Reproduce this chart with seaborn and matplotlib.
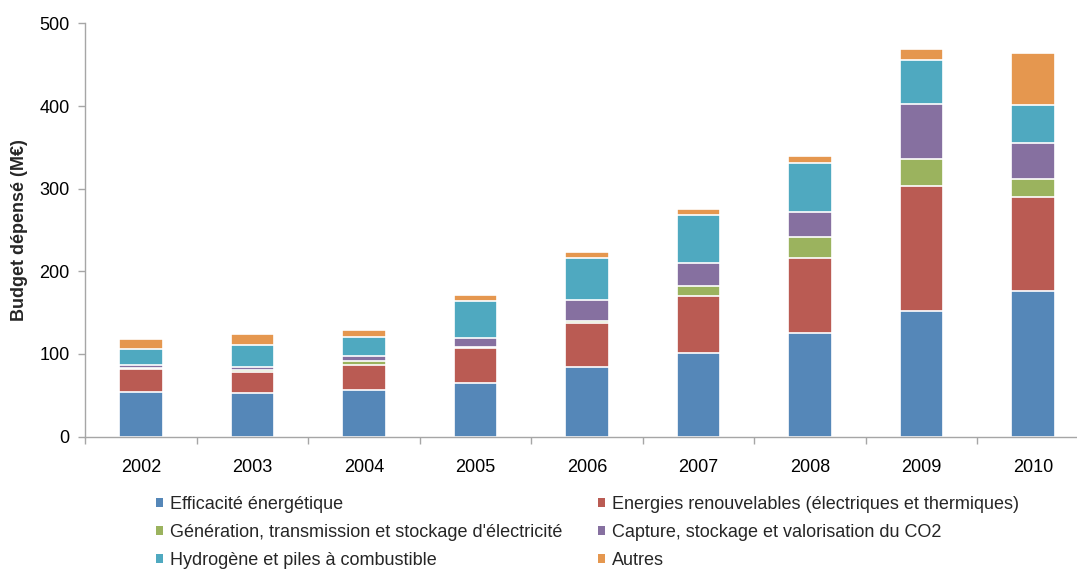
import numpy as np
import pandas as pd
import matplotlib
matplotlib.use("Agg")
import matplotlib.pyplot as plt
from matplotlib.patches import Patch
from matplotlib.ticker import FixedLocator
import seaborn as sns

# Budget dépensé par thématique (M€)
years = ["2002", "2003", "2004", "2005", "2006", "2007", "2008", "2009", "2010"]
efficacite = [53.5, 52.3, 56.3, 64.4, 83.8, 100.7, 125.7, 151.9, 176.1]
renouvelables = [28.0, 25.7, 30.7, 42.4, 53.2, 69.8, 90.8, 151.4, 114.2]
generation = [1.0, 2.0, 4.8, 1.2, 3.2, 11.7, 25.4, 32.3, 21.8]
capture = [3.5, 4.5, 5.7, 11.1, 25.1, 28.2, 30.3, 67.3, 42.9]
hydrogene = [20.5, 25.9, 22.5, 45.1, 51.2, 57.8, 58.5, 53.3, 46.3]
autres = [12.0, 13.3, 9.0, 7.3, 6.5, 6.8, 8.9, 12.9, 63.3]

series_names = [
    "Efficacité énergétique",
    "Energies renouvelables (électriques et thermiques)",
    "Génération, transmission et stockage d'électricité",
    "Capture, stockage et valorisation du CO2",
    "Hydrogène et piles à combustible",
    "Autres",
]
series_values = [efficacite, renouvelables, generation, capture, hydrogene, autres]
colors = ["#5587B8", "#BA5B53", "#9BB35E", "#8670A0", "#4FA9C0", "#E5974F"]

sns.set_theme(style="white")
plt.rcParams["font.family"] = ["Liberation Sans", "DejaVu Sans"]

FS = 13

fig = plt.figure(figsize=(10.77, 5.71), dpi=100)
ax = fig.add_axes([85 / 1077, 134.5 / 571, 1004 / 1077, 413 / 571])

# Stacked bars: draw cumulative totals from the top segment down
cum = np.cumsum(np.array(series_values), axis=0)
for i in range(len(series_names) - 1, -1, -1):
    df = pd.DataFrame({"year": years, "value": cum[i]})
    sns.barplot(data=df, x="year", y="value", color=colors[i], saturation=1,
                width=0.39, edgecolor="white", linewidth=1.2, ax=ax, zorder=2)

ax.set_ylim(0, 500)
ax.set_xlim(-0.5, 8.5)
ax.set_yticks(range(0, 501, 100))
ax.set_xlabel("")
ax.set_ylabel("Budget dépensé (M€)", fontsize=FS, fontweight="bold", labelpad=8)

grey = "#A6A6A6"
for side in ["top", "right"]:
    ax.spines[side].set_visible(False)
for side in ["left", "bottom"]:
    ax.spines[side].set_color(grey)
    ax.spines[side].set_linewidth(1.0)

ax.tick_params(axis="y", which="major", left=True, length=5, width=1, color=grey,
               labelsize=FS, pad=6, labelcolor="black")
ax.tick_params(axis="x", which="major", bottom=False, labelsize=FS, pad=10,
               labelcolor="black")
ax.xaxis.set_minor_locator(FixedLocator(np.arange(-0.5, 9.0, 1.0)))
ax.tick_params(axis="x", which="minor", bottom=True, length=5, width=1, color=grey)

handles = [Patch(facecolor=c, edgecolor="none") for c in colors]
order = [0, 2, 4, 1, 3, 5]
fig.legend([handles[k] for k in order], [series_names[k] for k in order],
           ncol=2, loc="upper left", bbox_to_anchor=(156 / 1077, 1 - 496 / 571),
           frameon=False, fontsize=FS, handlelength=0.4, handleheight=0.4,
           handletextpad=0.35, columnspacing=2.0, labelspacing=0.62,
           borderaxespad=0, borderpad=0)

fig.savefig("out.png", dpi=100)
